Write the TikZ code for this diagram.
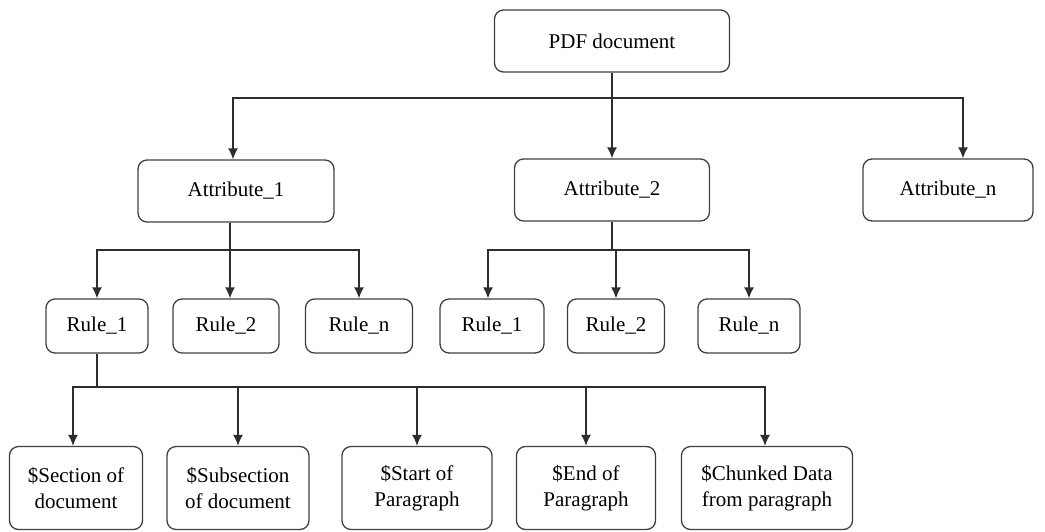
\documentclass[tikz,border=0pt]{standalone}
\usepackage{fontspec}
\setmainfont{Liberation Serif}
\usepackage{tikz}
\usetikzlibrary{arrows.meta}
\definecolor{boxgray}{rgb}{0.25, 0.25, 0.25}
\definecolor{linegray}{rgb}{0.18, 0.18, 0.18}
\tikzstyle{docbox}=[rectangle, rounded corners=9pt, draw=boxgray, line width=1.3pt, text centered, align=center, inner sep=2pt, font=\fontsize{21}{26}\selectfont]
\tikzstyle{attrbox}=[docbox, minimum height=62pt]
\tikzstyle{rulebox}=[docbox, minimum height=54pt]
\tikzstyle{markbox}=[docbox, minimum height=83pt]
\tikzstyle{line}=[line width=1.3pt, draw=linegray]
\tikzstyle{arrow}=[line, -{Latex[length=11pt,width=10pt]}]

\begin{document}
\begin{tikzpicture}[x=1pt, y=-1pt]
		\useasboundingbox (0,0) rectangle (1045,531);
		\node (pdf) [attrbox, minimum width=235pt] at (612,41) {PDF document};
		
		\node (attr1) [attrbox, minimum width=196pt] at (236,191) {Attribute\_1};
		\node (attr2) [attrbox, minimum width=195pt] at (612,190) {Attribute\_2};
		\node (attrn) [attrbox, minimum width=170pt] at (948,190) {Attribute\_n};
		
		\node (rule11) [rulebox, minimum width=102pt] at (97,326) {Rule\_1};
		\node (rule12) [rulebox, minimum width=106pt] at (226,326) {Rule\_2};
		\node (rule1n) [rulebox, minimum width=107pt] at (359,326) {Rule\_n};
		\node (rule21) [rulebox, minimum width=104pt] at (492,326) {Rule\_1};
		\node (rule22) [rulebox, minimum width=97pt] at (616,326) {Rule\_2};
		\node (rule2n) [rulebox, minimum width=102pt] at (749,326) {Rule\_n};
		
		\node (section) [markbox, minimum width=133pt] at (76,488) {\$Section of\\document};
		\node (subsection) [markbox, minimum width=142pt] at (238,488) {\$Subsection\\of document};
		\node (start) [markbox, minimum width=150pt] at (417,488) {\$Start of\\Paragraph};
		\node (end) [markbox, minimum width=139pt] at (586,488) {\$End of\\Paragraph};
		\node (chunked) [markbox, minimum width=171pt] at (767,488) {\$Chunked Data\\from paragraph};
		
		\coordinate (pdfbar) at (612,98);
		\coordinate (attr1bar) at (230,250);
		\coordinate (attr2bar) at (612,250);
		\coordinate (rule11bar) at (97,387);
		
		\draw [line] (pdf) -- (pdfbar);
		\draw [arrow] (pdfbar) -| ([xshift=-3pt]attr1.north);
		\draw [arrow] (pdfbar) -- (attr2);
		\draw [arrow] (pdfbar) -| ([xshift=15pt]attrn.north);
		
		\draw [line] (attr1.south -| attr1bar) -- (attr1bar);
		\draw [arrow] (attr1bar) -| (rule11);
		\draw [arrow] (attr1bar) -| ([xshift=4pt]rule12.north);
		\draw [arrow] (attr1bar) -| (rule1n);
		
		\draw [line] (attr2) -- (attr2bar);
		\draw [arrow] (attr2bar) -| ([xshift=-4pt]rule21.north);
		\draw [arrow] (attr2bar) -| (rule22);
		\draw [arrow] (attr2bar) -| (rule2n);
		
		\draw [line] (rule11) -- (rule11bar);
		\draw [arrow] (rule11bar) -| ([xshift=-3pt]section.north);
		\draw [arrow] (rule11bar) -| (subsection);
		\draw [arrow] (rule11bar) -| (start);
		\draw [arrow] (rule11bar) -| (end);
		\draw [arrow] (rule11bar) -| ([xshift=-2pt]chunked.north);
	\end{tikzpicture}
\end{document}
